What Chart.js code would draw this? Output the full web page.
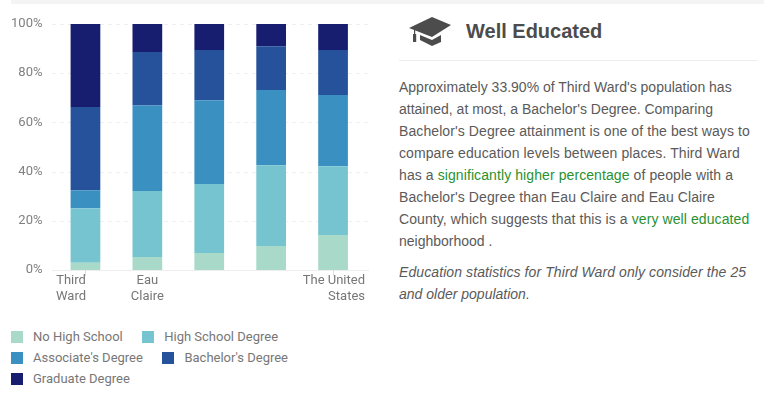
<!DOCTYPE html>
<html>
<head>
<meta charset="utf-8">
<script src="https://cdn.jsdelivr.net/npm/chart.js@4"></script>
<style>
    html, body { margin: 0; padding: 0; background: #fff; }
    body { width: 764px; height: 394px; position: relative; overflow: hidden; font-family: "Liberation Sans", Arial, sans-serif; }
    #top-bar { position: absolute; left: 11px; right: 0; top: 0; height: 4px; background: #f4f4f4; }
    #chart-box { position: absolute; left: 0; top: 0; width: 382px; height: 320px; }
    #legend { position: absolute; left: 11px; top: 326px; width: 340px; font: 13px Roboto, sans-serif; color: #777; }
    #legend .item { display: inline-flex; align-items: center; height: 21px; margin-right: 19.5px; vertical-align: top; }
    #legend .swatch { width: 12px; height: 12px; margin-right: 10px; }
    #icon { position: absolute; left: 408px; top: 16px; }
    h2 { position: absolute; left: 466px; top: 19px; margin: 0; font-size: 20px; line-height: 24px; color: #4c4c4c; }
    #rule { position: absolute; left: 399px; right: 6px; top: 60px; height: 1px; background: #eee; }
    #text { position: absolute; left: 399px; top: 76px; font-size: 14px; line-height: 22.05px; color: #5a5a5a; white-space: nowrap; }
    #text p { margin: 0 0 9px; }
    #text b { font-weight: normal; color: #2a9130; }
    #text .wide { letter-spacing: 0.09px; }
</style>
</head>
<body>
<div id="top-bar"></div>
<div id="chart-box"><canvas id="edu-chart"></canvas></div>
<div id="legend"></div>
<svg id="icon" width="44" height="32" viewBox="0 0 44 32">
    <path d="M24 1 L43 9 L24 21 L1 12 Z" fill="#4c4c4c"/>
    <path d="M12 19 L24 24 L33 19 L33 26 L24 30 L12 24 Z" fill="#4c4c4c"/>
    <rect x="6" y="13" width="1.2" height="6" fill="#4c4c4c"/>
    <rect x="5" y="18" width="3.2" height="8" fill="#4c4c4c"/>
</svg>
<h2>Well Educated</h2>
<div id="rule"></div>
<div id="text">
    <p>Approximately 33.90% of Third Ward's population has<br>
    attained, at most, a Bachelor's Degree. Comparing<br>
    <span class="wide">Bachelor's Degree attainment is one of the best ways to</span><br>
    <span class="wide">compare education levels between places. Third Ward</span><br>
    <span class="wide">has a <b>significantly higher percentage</b> of people with a</span><br>
    <span class="wide">Bachelor's Degree than Eau Claire and Eau Claire</span><br>
    <span class="wide">County, which suggests that this is a <b>very well educated</b></span><br>
    neighborhood .</p>
    <p><i><span class="wide">Education statistics for Third Ward only consider the 25</span><br>
    and older population.</i></p>
</div>
<script>
// labels for the 3rd and 4th places are hidden in the original
const categories = [['Third', 'Ward'], ['Eau', 'Claire'], '', '', ['The United', 'States']];
const tickLabels = ['0%', '20%', '40%', '60%', '80%', '100%'];

const noHighSchool = [2.9, 5.3, 6.9, 9.8, 14.2];
const highSchool = [22.2, 26.8, 28.1, 32.8, 28.0];
const associates = [7.3, 34.8, 34.0, 30.6, 28.9];
const bachelors = [33.9, 21.7, 20.4, 17.8, 18.3];
const graduate = [33.7, 11.4, 10.6, 9.0, 10.6];

const seriesNames = ['No High School', 'High School Degree', "Associate's Degree", "Bachelor's Degree", 'Graduate Degree'];
const seriesColors = ['#a8d9c9', '#76c4d0', '#3a91c1', '#25529b', '#171e70'];
const seriesValues = [noHighSchool, highSchool, associates, bachelors, graduate];

const gridAndLabels = {
    id: 'gridAndLabels',
    beforeDatasetsDraw(chart) {
        const ctx = chart.ctx;
        const y = chart.scales.y;
        ctx.save();
        ctx.lineWidth = 1;
        y.ticks.forEach(tick => {
            const py = Math.round(y.getPixelForValue(tick.value)) + 0.5;
            ctx.strokeStyle = tick.value === 0 ? '#eee' : '#efefef';
            ctx.setLineDash(tick.value === 0 ? [] : [4, 4]);
            ctx.beginPath();
            ctx.moveTo(52, py);
            ctx.lineTo(369, py);
            ctx.stroke();
        });
        ctx.restore();
    },
    afterDraw(chart) {
        const ctx = chart.ctx;
        const x = chart.scales.x;
        const base = chart.scales.y.bottom;
        ctx.save();
        ctx.font = '13px Roboto, sans-serif';
        ctx.fillStyle = '#777';
        ctx.textBaseline = 'middle';
        // first and last labels get pushed back inside the plot
        const last = categories.length - 1;
        categories.forEach((label, i) => {
            if (!label) return;
            const px = x.getPixelForValue(i);
            const lines = [].concat(label);
            lines.forEach((line, n) => {
                let lx = px;
                ctx.textAlign = 'center';
                if (i === 0) { lx = 71; }
                if (i === last) { ctx.textAlign = 'right'; lx = 365; }
                ctx.fillText(line, lx, base + 11 + n * 16);
            });
        });
        ctx.strokeStyle = '#ddd';
        [0, last].forEach(i => {
            const px = Math.round(x.getPixelForValue(i)) + 0.5;
            ctx.beginPath();
            ctx.moveTo(px, base);
            ctx.lineTo(px, base + 6);
            ctx.stroke();
        });
        ctx.restore();
    }
};

new Chart(document.getElementById('edu-chart'), {
    type: 'bar',
    data: {
        labels: categories,
        datasets: seriesNames.map((name, i) => ({
            label: name,
            data: seriesValues[i],
            backgroundColor: seriesColors[i],
            barPercentage: 0.48,
            categoryPercentage: 1
        }))
    },
    options: {
        responsive: true,
        maintainAspectRatio: false,
        animation: false,
        layout: { padding: { top: 24, bottom: 42, right: 18 } },
        plugins: { legend: { display: false }, tooltip: { enabled: false } },
        scales: {
            x: {
                stacked: true,
                grid: { display: false },
                border: { display: false },
                ticks: { display: false }
            },
            y: {
                stacked: true,
                min: 0,
                max: 100,
                afterFit(scale) { scale.width = 54.5; },
                grid: { display: false },
                border: { display: false },
                ticks: {
                    stepSize: 20,
                    padding: 4,
                    color: '#808080',
                    font: { family: 'Roboto, sans-serif', size: 13 },
                    callback: (value) => tickLabels[value / 20]
                }
            }
        }
    },
    plugins: [gridAndLabels]
});

// legend rows break the same way the original does
const legend = document.getElementById('legend');
seriesNames.forEach((name, i) => {
    const item = document.createElement('span');
    item.className = 'item';
    item.innerHTML = `<span class="swatch" style="background:${seriesColors[i]}"></span>${name}`;
    legend.appendChild(item);
    if (i === 1 || i === 3) legend.appendChild(document.createElement('br'));
});
</script>
</body>
</html>
